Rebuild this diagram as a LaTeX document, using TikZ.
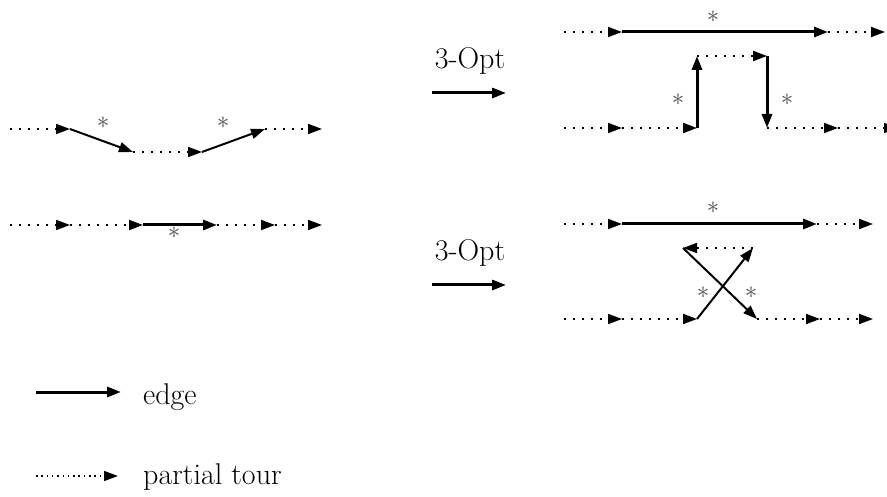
\documentclass[tikz,border=0pt]{standalone}
\usetikzlibrary{arrows.meta}
\begin{document}
\begin{tikzpicture}[x=1pt,y=-1pt,
  tip/.style={-{Triangle[length=14pt 0 0,width=10pt 0 0]}},
  tour/.style={tip, line width=1.8pt, dash pattern=on 1.8pt off 7.2pt},
  finetour/.style={tip, line width=1.5pt, dash pattern=on 1.5pt off 3.8pt},
  edg/.style={tip, line width=3pt},
  thinedg/.style={tip, line width=2pt},
  star/.style={font=\fontsize{24}{24}\selectfont, inner sep=0pt, text=black!70},
  lbl/.style={font=\fontsize{30}{36}\selectfont, inner sep=0pt}]
\useasboundingbox (0,0) rectangle (887,497);

% ---- left top: two edges
\coordinate (a0) at (10,129);
\coordinate (a1) at (70,129);
\coordinate (a2) at (133,152);
\coordinate (a3) at (202,152);
\coordinate (a4) at (265,129);
\coordinate (a5) at (322,129);
\draw[tour] (a0) -- (a1);
\draw[thinedg] (a1) -- (a2);
\draw[tour] (a2) -- (a3);
\draw[thinedg] (a3) -- (a4);
\draw[tour] (a4) -- (a5);
\node[star] (sa1) at (103,123) {$\ast$};
\node[star] (sa2) at (223,123) {$\ast$};

% ---- left bottom: one edge
\coordinate (b0) at (10,225);
\coordinate (b1) at (70,225);
\coordinate (b2) at (143,225);
\coordinate (b3) at (217,225);
\coordinate (b4) at (275,225);
\coordinate (b5) at (322,225);
\draw[tour] (b0) -- (b1);
\draw[tour] (b1) -- (b2);
\draw[edg] (b2) -- (b3);
\draw[tour] (b3) -- (b4);
\draw[tour] (b4) -- (b5);
\node[star] (sb) at (174,233) {$\ast$};

% ---- 3-Opt labels and arrows
\node[lbl, anchor=base] (opt1) at (470,69) {3-Opt};
\coordinate (e0) at (432,93);
\coordinate (e1) at (506,93);
\draw[edg] (e0) -- (e1);
\node[lbl, anchor=base] (opt2) at (470,261) {3-Opt};
\coordinate (e2) at (432,285);
\coordinate (e3) at (506,285);
\draw[edg] (e2) -- (e3);

% ---- right top
\coordinate (c0) at (564,32);
\coordinate (c1) at (622,32);
\coordinate (c2) at (828,32);
\coordinate (c3) at (885,32);
\draw[tour] (c0) -- (c1);
\draw[edg] (c1) -- (c2);
\draw[tour] (c2) -- (c3);
\coordinate (d0) at (564,128);
\coordinate (d1) at (622,128);
\coordinate (d2) at (697,128);
\coordinate (d3) at (697,56);
\coordinate (d4) at (767,56);
\coordinate (d5) at (767,128);
\coordinate (d6) at (838,128);
\coordinate (d7) at (898,128);
\draw[tour] (d0) -- (d1);
\draw[tour] (d1) -- (d2);
\draw[edg] (d2) -- (d3);
\draw[tour] (d3) -- (d4);
\draw[edg] (d4) -- (d5);
\draw[tour] (d5) -- (d6);
\draw[tour] (d6) -- (d7);
\node[star] (sc1) at (713,17) {$\ast$};
\node[star] (sc2) at (678,100) {$\ast$};
\node[star] (sc3) at (787,100) {$\ast$};

% ---- right bottom
\coordinate (f0) at (564,224);
\coordinate (f1) at (622,224);
\coordinate (f2) at (817,224);
\coordinate (f3) at (873,224);
\draw[tour] (f0) -- (f1);
\draw[edg] (f1) -- (f2);
\draw[tour] (f2) -- (f3);
\coordinate (g0) at (753,248);
\coordinate (g1) at (683,248);
\draw[tour] (g0) -- (g1);
\coordinate (h0) at (564,319);
\coordinate (h1) at (622,319);
\coordinate (h2) at (697,319);
\coordinate (h3) at (757,319);
\coordinate (h4) at (820,319);
\coordinate (h5) at (873,319);
\draw[tour] (h0) -- (h1);
\draw[tour] (h1) -- (h2);
\draw[thinedg] (h2) -- (g0);
\draw[thinedg] (g1) -- (h3);
\draw[tour] (h3) -- (h4);
\draw[tour] (h4) -- (h5);
\node[star] (sf1) at (713,208) {$\ast$};
\node[star] (sf2) at (703,293) {$\ast$};
\node[star] (sf3) at (751,293) {$\ast$};

% ---- legend
\coordinate (l0) at (36,392);
\coordinate (l1) at (121,392);
\draw[edg] (l0) -- (l1);
\node[lbl, anchor=base west] (ledge) at (143,404) {edge};
\coordinate (l2) at (36,476);
\coordinate (l3) at (118,476);
\draw[finetour] (l2) -- (l3);
\node[lbl, anchor=base west] (ltour) at (143,484) {partial tour};
\end{tikzpicture}
\end{document}
